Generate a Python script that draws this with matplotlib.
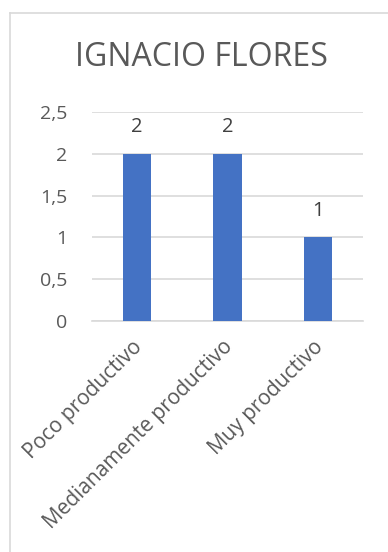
import matplotlib
matplotlib.use('Agg')
import matplotlib.pyplot as plt
import matplotlib.transforms as mtrans
from matplotlib.lines import Line2D

categories = ['Poco productivo', 'Medianamente productivo', 'Muy productivo']
values = [2, 2, 1]
yticks = [0, 0.5, 1, 1.5, 2, 2.5]
ytick_labels = ['0', '0,5', '1', '1,5', '2', '2,5']
title = 'IGNACIO FLORES'

W, H = 388, 552
plt.rcParams['font.family'] = ['Open Sans', 'DejaVu Sans']
fig = plt.figure(figsize=(W / 100, H / 100), dpi=100)
fig.patch.set_facecolor('white')

# chart border (only left/top visible in the crop)
fig.add_artist(Line2D([9.5 / W, 9.5 / W], [0, 1 - 13 / H], color='#d9d9d9', lw=1.2))
fig.add_artist(Line2D([9.5 / W, 1], [1 - 13 / H, 1 - 13 / H], color='#d9d9d9', lw=1.2))

ax = fig.add_axes([92 / W, 1 - 321 / H, (363 - 92) / W, (321 - 112) / H])
x = range(len(categories))
bars = ax.bar(x, values, width=0.31, color='#4472c4', zorder=3)
ax.set_xlim(-0.5, len(categories) - 0.5)
ax.set_ylim(0, 2.5)
ax.set_yticks(yticks)
ax.set_yticklabels(ytick_labels)
ax.yaxis.grid(True, color='#d9d9d9', lw=1.2, zorder=0)
for s in ['top', 'right', 'left']:
    ax.spines[s].set_visible(False)
ax.spines['bottom'].set_color('#d9d9d9')
ax.spines['bottom'].set_linewidth(1.2)
ax.tick_params(axis='both', length=0, colors='#595959')
ax.tick_params(axis='y', pad=18, labelsize=14)
ax.set_xticks(list(x))
ax.set_xticklabels(categories, rotation=45, ha='right', va='top', rotation_mode='anchor')
ax.tick_params(axis='x', pad=11, labelsize=15)
shift = mtrans.ScaledTranslation(-5 / 100, 0, fig.dpi_scale_trans)
for lab in ax.get_xticklabels():
    lab.set_transform(lab.get_transform() + shift)

for b, v in zip(bars, values):
    ax.annotate(str(v), (b.get_x() + b.get_width() / 2, v), xytext=(0, 19),
                textcoords='offset points', ha='center', va='center',
                fontsize=14.5, color='#404040')

fig.text(201 / W, 1 - 58 / H, title, ha='center', va='center', fontsize=23, color='#595959')

fig.savefig('out.png', dpi=100, facecolor='white')
